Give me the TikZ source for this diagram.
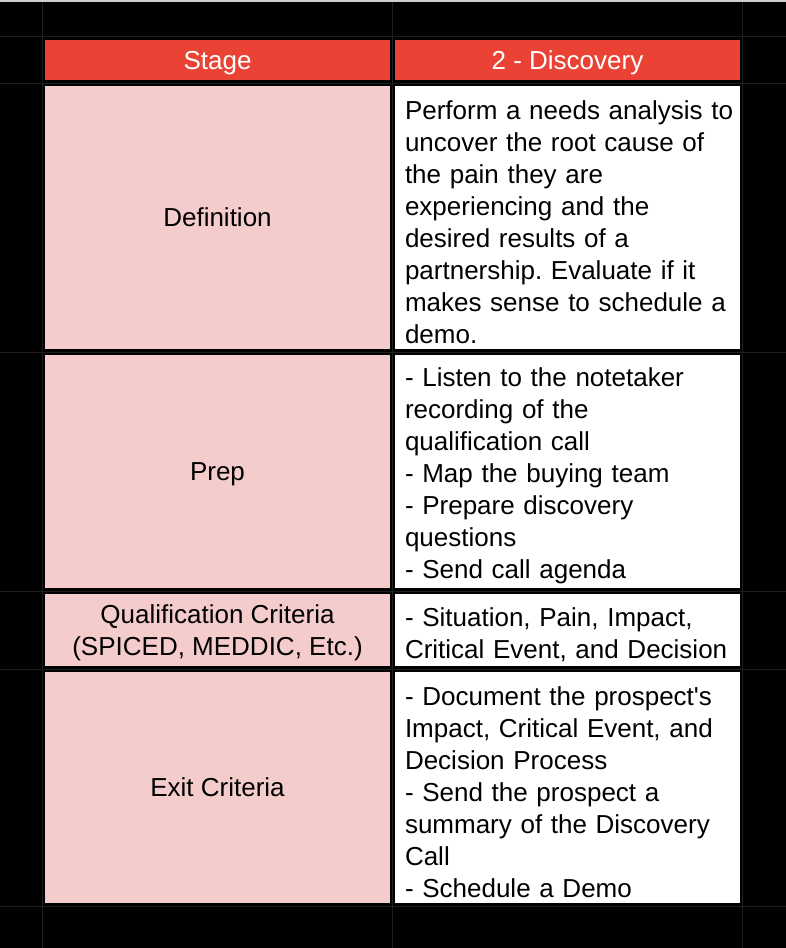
\documentclass[tikz,border=0pt]{standalone}
\usepackage{fontspec}
\newfontfamily\cellfont{Liberation Sans}
\usetikzlibrary{positioning}
\definecolor{hdred}{HTML}{EA4335}
\definecolor{keypink}{HTML}{F4CCCC}
\definecolor{gridgray}{RGB}{30,30,30}
\definecolor{topgray}{RGB}{205,205,205}
\frenchspacing
\begin{document}
\begin{tikzpicture}[x=1pt,y=1pt,node distance=6pt and 5pt,
  cell/.style={rectangle,inner sep=0pt,outer sep=0pt,minimum width=345pt,
    font=\cellfont\fontsize{26}{32}\selectfont},
  head/.style={cell,fill=hdred,text=white,text depth=0pt,minimum height=40pt},
  key/.style={cell,fill=keypink,text depth=0pt,align=center},
  val/.style={cell,fill=white,text width=335pt,
    execute at begin node={\raggedright\leftskip=5pt\relax\rule{0pt}{28pt}}}]
  \useasboundingbox (0,0) rectangle (786,-948);
  \fill[black] (0,0) rectangle (786,-948);
  \fill[topgray] (0,0) rectangle (786,-2);
  % faint sheet grid
  \foreach \gx in {42.5,392.5,742.5}
    \draw[gridgray,line width=1pt] (\gx,-2) -- (\gx,-948);
  \foreach \gy in {36,83,352,591,669,906}
    \draw[gridgray,line width=1pt] (0,-\gy) -- (786,-\gy);

  \node[head]                             (stage) at (217.5,-60) {Stage};
  \node[head]  [right=of stage]           (disc)  {2 - Discovery};

  \node[key,minimum height=263pt] [below=of stage] (defk) {Definition};
  \node[val,minimum height=263pt] [right=of defk]  (defv)
    {Perform a needs analysis to\\uncover the root cause of\\the pain they are\\
     experiencing and the\\desired results of a\\partnership. Evaluate if it\\
     makes sense to schedule a\\demo.};

  \node[key,minimum height=233pt] [below=of defk]  (prepk) {Prep};
  \node[val,minimum height=233pt] [right=of prepk] (prepv)
    {- Listen to the notetaker\\recording of the\\qualification call\\
     - Map the buying team\\- Prepare discovery\\questions\\- Send call agenda};

  \node[key,minimum height=72pt] [below=of prepk]  (qualk)
    {Qualification Criteria\\(SPICED, MEDDIC, Etc.)};
  \node[val,minimum height=72pt] [right=of qualk]  (qualv)
    {- Situation, Pain, Impact,\\Critical Event, and Decision};

  \node[key,minimum height=231pt] [below=of qualk] (exitk) {Exit Criteria};
  \node[val,minimum height=231pt] [right=of exitk] (exitv)
    {- Document the prospect's\\Impact, Critical Event, and\\Decision Process\\
     - Send the prospect a\\summary of the Discovery\\Call\\- Schedule a Demo};
\end{tikzpicture}
\end{document}
